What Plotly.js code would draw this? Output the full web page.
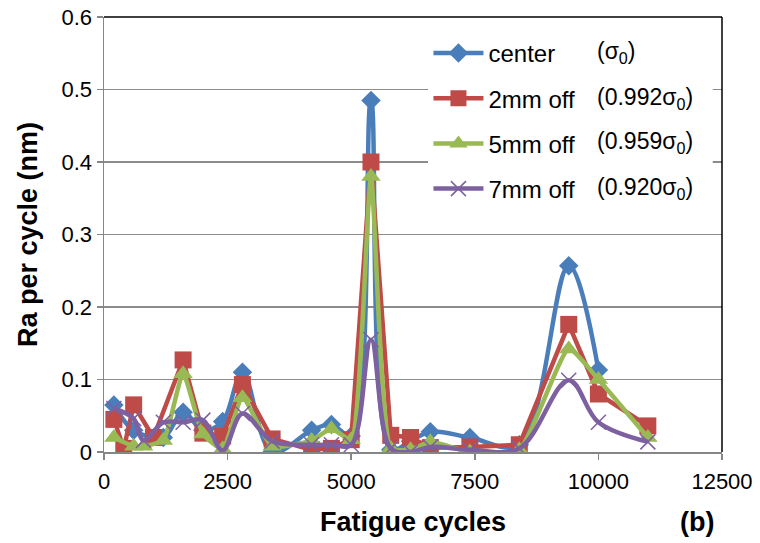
<!DOCTYPE html>
<html>
<head>
<meta charset="utf-8">
<script src="https://cdn.plot.ly/plotly-3.0.1.min.js"></script>
<style>html,body{margin:0;padding:0;background:#fff;}#chart{width:760px;height:543px;}</style>
</head>
<body>
<div id="chart"></div>
<script>
// ---- data ----
const xCenter = [200, 600, 1200, 1600, 2000, 2400, 2800, 3400, 4200, 4600, 5000, 5400, 5800, 6200, 6600, 7400, 8400, 9400, 10000];
const yCenter = [0.065, 0.03, 0.02, 0.055, 0.03, 0.042, 0.11, 0.0, 0.03, 0.038, 0.022, 0.485, 0.003, 0.015, 0.028, 0.02, 0.01, 0.257, 0.113];

const x2mm = [200, 400, 600, 1000, 1600, 2000, 2400, 2800, 3400, 4200, 4600, 5000, 5400, 5800, 6200, 6600, 7400, 8400, 9400, 10000, 11000];
const y2mm = [0.045, 0.005, 0.065, 0.02, 0.127, 0.026, 0.022, 0.093, 0.018, 0.003, 0.005, 0.017, 0.40, 0.023, 0.02, 0.006, 0.007, 0.01, 0.176, 0.08, 0.036];

const x5mm = [200, 600, 800, 1200, 1600, 2000, 2400, 2800, 3400, 4200, 4600, 5000, 5400, 5800, 6200, 6600, 7400, 8400, 9400, 10000, 11000];
const y5mm = [0.02, 0.008, 0.008, 0.016, 0.108, 0.025, 0.004, 0.075, 0.008, 0.016, 0.032, 0.017, 0.38, 0.005, 0.003, 0.014, 0.0, 0.003, 0.142, 0.1, 0.02];

const x7mm = [200, 600, 800, 1200, 1600, 2000, 2400, 2800, 3400, 4200, 4600, 5000, 5400, 5800, 6200, 6600, 7400, 8400, 9400, 10000, 11000];
const y7mm = [0.06, 0.046, 0.016, 0.041, 0.041, 0.044, 0.002, 0.053, 0.015, 0.01, 0.01, 0.01, 0.155, 0.005, 0.0, 0.007, 0.003, 0.005, 0.099, 0.041, 0.014];

const seriesNames = ["center", "2mm off", "5mm off", "7mm off"];
const sigmaLabels = ["(σ<sub>0</sub>)", "(0.992σ<sub>0</sub>)", "(0.959σ<sub>0</sub>)", "(0.920σ<sub>0</sub>)"];
const xTickVals = [0, 2500, 5000, 7500, 10000, 12500];
const yTickVals = [0, 0.1, 0.2, 0.3, 0.4, 0.5, 0.6];

// ---- styles ----
const FONT = "Liberation Sans, Arial, sans-serif";
const colors = ["#4A7EBB", "#BE4B48", "#98B954", "#7D60A0"];
const symbols = ["diamond", "square", "triangle-up", "x-thin"];
const msizes = [15, 17, 17, 15];
const shapes = ["spline", "linear", "spline", "spline"];
const smooth = [1, 0, 0.5, 1];

const xs = [xCenter, x2mm, x5mm, x7mm];
const ys = [yCenter, y2mm, y5mm, y7mm];

const traces = xs.map((x, i) => ({
  type: "scatter",
  mode: "lines+markers",
  x: x,
  y: ys[i],
  name: seriesNames[i],
  legendgroup: "g" + i,
  line: {color: colors[i], width: 4.5, shape: shapes[i], smoothing: smooth[i] || undefined},
  marker: symbols[i] === "x-thin"
    ? {symbol: "x-thin", size: msizes[i], color: colors[i], line: {color: colors[i], width: 1.5}}
    : {symbol: symbols[i], size: msizes[i], color: colors[i], line: {width: 0}}
}));

const annots = sigmaLabels.map((t, i) => ({
  xref: "paper", yref: "paper",
  x: 0.794, y: [0.919, 0.813, 0.711, 0.605][i],
  xanchor: "left", yanchor: "middle",
  text: t, showarrow: false,
  font: {family: FONT, size: 23, color: "#000"}
}));
annots.push({
  xref: "paper", yref: "paper", x: 0.99, y: -0.16,
  xanchor: "right", yanchor: "middle", text: "(b)", showarrow: false,
  font: {family: FONT, size: 27, color: "#000", weight: "bold"}
});

const layout = {
  width: 760, height: 543,
  margin: {l: 104, r: 38, t: 17, b: 91},
  paper_bgcolor: "#fff", plot_bgcolor: "#fff",
  font: {family: FONT, color: "#000"},
  showlegend: true,
  legend: {
    x: 0.525, y: 0.968, xanchor: "left", yanchor: "top",
    bgcolor: "#fff", borderwidth: 0,
    font: {family: FONT, size: 24, color: "#000"},
    itemwidth: 50, traceorder: "grouped", tracegroupgap: 11
  },
  xaxis: {
    range: [0, 12500], tickvals: xTickVals, tickformat: "d",
    ticks: "outside", ticklen: 6, tickwidth: 1.5, tickcolor: "#868686",
    showline: true, linecolor: "#868686", linewidth: 1.5,
    showgrid: false, zeroline: false,
    ticklabelstandoff: 3,
    tickfont: {family: FONT, size: 22, color: "#000"},
    title: {text: "Fatigue cycles", font: {family: FONT, size: 27, color: "#000", weight: "bold"}, standoff: 19},
    automargin: false
  },
  yaxis: {
    range: [0, 0.6], tickvals: yTickVals,
    ticks: "outside", ticklen: 6, tickwidth: 1.5, tickcolor: "#868686",
    showline: true, linecolor: "#868686", linewidth: 1.5,
    showgrid: true, gridcolor: "#8C8C8C", gridwidth: 1.5, zeroline: false,
    tickfont: {family: FONT, size: 22, color: "#000"},
    title: {text: "Ra per cycle (nm)", font: {family: FONT, size: 27, color: "#000", weight: "bold"}, standoff: 16},
    automargin: false
  },
  shapes: [
    {type: "rect", xref: "paper", yref: "paper", layer: "above", x0: 0.525, x1: 0.985, y0: 0.575, y1: 0.96, fillcolor: "#fff", line: {width: 0}},
    {type: "line", xref: "paper", yref: "paper", x0: 0, x1: 1, y0: 1, y1: 1, line: {color: "#000", width: 1.5}},
    {type: "line", xref: "paper", yref: "paper", x0: 1, x1: 1, y0: 0, y1: 1, line: {color: "#000", width: 1.5}}
  ],
  annotations: annots
};

Plotly.newPlot("chart", traces, layout, {displayModeBar: false, staticPlot: true});
</script>
</body>
</html>
